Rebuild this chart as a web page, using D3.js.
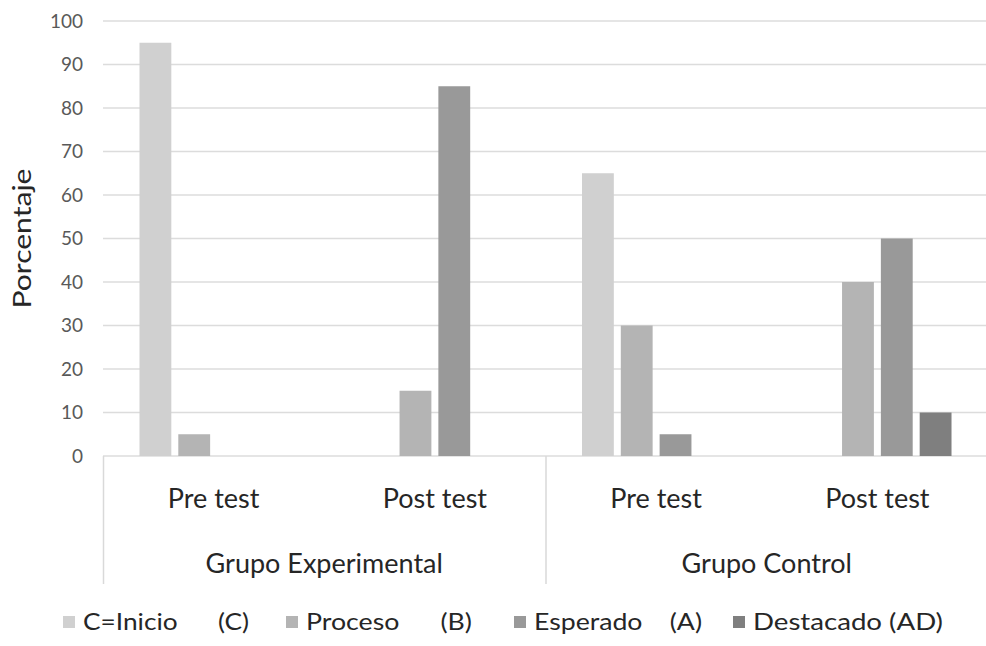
<!DOCTYPE html>
<html>
<head>
<meta charset="utf-8">
<script src="https://cdn.jsdelivr.net/npm/d3@7"></script>
<style>
  html, body { margin: 0; padding: 0; background: #fff; }
  svg { display: block; font-family: Lato, "Open Sans", sans-serif; }
  text { white-space: pre; }
</style>
</head>
<body>
<svg id="chart" width="986" height="646"></svg>
<script>
// Nivel de logro por grupo y momento de evaluación (%)
const categories = ["Pre test", "Post test", "Pre test", "Post test"];
const groups = ["Grupo Experimental", "Grupo Control"];
const seriesNames = ["C=Inicio      (C)", "Proceso      (B)", "Esperado    (A)", "Destacado (AD)"];
const inicio    = [95, 0, 65, 0];
const proceso   = [5, 15, 30, 40];
const esperado  = [0, 85, 5, 50];
const destacado = [0, 0, 0, 10];
const yTicks = [0, 10, 20, 30, 40, 50, 60, 70, 80, 90, 100];
const colors = ["#d0d0d0", "#b4b4b4", "#999999", "#7f7f7f"];

const seriesValues = [inicio, proceso, esperado, destacado];

const svg = d3.select("#chart");
const plot = { left: 103, right: 988, top: 21, bottom: 456 };

const x0 = d3.scaleBand()
  .domain(d3.range(categories.length))
  .range([plot.left, plot.right])
  .paddingInner(0).paddingOuter(0);

const x1 = d3.scaleBand()
  .domain(d3.range(seriesNames.length))
  .range([0, x0.bandwidth()])
  .paddingInner(0.18)
  .paddingOuter(0.94);

const y = d3.scaleLinear().domain([0, 100]).range([plot.bottom, plot.top]);

// Horizontal gridlines
svg.append("g")
  .selectAll("line")
  .data(yTicks)
  .join("line")
  .attr("x1", plot.left).attr("x2", plot.right)
  .attr("y1", d => y(d)).attr("y2", d => y(d))
  .attr("stroke", "#dcdcdc").attr("stroke-width", 1.6);

// Y axis tick labels
const yAxis = d3.axisLeft(y).tickValues(yTicks).tickSize(0).tickPadding(0);
const gy = svg.append("g")
  .attr("transform", `translate(${plot.left - 20},0)`)
  .call(yAxis);
gy.select(".domain").remove();
gy.selectAll("text")
  .attr("fill", "#595959")
  .style("font-size", "19px")
  .style("font-family", "Lato, sans-serif");

// Bars
const cat = svg.append("g")
  .selectAll("g")
  .data(d3.range(categories.length))
  .join("g")
  .attr("transform", i => `translate(${x0(i)},0)`);

cat.selectAll("rect")
  .data(i => seriesValues.map((vals, s) => ({ s, v: vals[i] })))
  .join("rect")
  .attr("x", d => x1(d.s))
  .attr("width", x1.bandwidth())
  .attr("y", d => y(d.v))
  .attr("height", d => y(0) - y(d.v))
  .attr("fill", d => colors[d.s]);

// Category labels
svg.append("g")
  .selectAll("text")
  .data(categories)
  .join("text")
  .attr("x", (d, i) => x0(i) + x0.bandwidth() / 2)
  .attr("y", 508)
  .attr("text-anchor", "middle")
  .attr("fill", "#262626")
  .style("font-size", "27px")
  .text(d => d);

// Group labels and separators
const groupWidth = x0.bandwidth() * 2;
svg.append("g")
  .selectAll("text")
  .data(groups)
  .join("text")
  .attr("x", (d, i) => plot.left + groupWidth * i + groupWidth / 2)
  .attr("y", 573)
  .attr("text-anchor", "middle")
  .attr("fill", "#262626")
  .style("font-size", "27px")
  .text(d => d);

svg.append("g")
  .selectAll("line")
  .data(d3.range(groups.length))
  .join("line")
  .attr("x1", i => plot.left + groupWidth * i + 0.5)
  .attr("x2", i => plot.left + groupWidth * i + 0.5)
  .attr("y1", plot.bottom).attr("y2", 584)
  .attr("stroke", "#d9d9d9").attr("stroke-width", 1.5);

// Y axis title
svg.append("text")
  .attr("transform", `translate(31,${(plot.top + plot.bottom) / 2}) rotate(-90)`)
  .attr("text-anchor", "middle")
  .attr("fill", "#262626")
  .attr("textLength", 140)
  .attr("lengthAdjust", "spacingAndGlyphs")
  .style("font-size", "25px")
  .text("Porcentaje");

// Legend
const legendWidths = [166, 166, 168, 190];
const legendStarts = [63, 286, 514, 733];
const legend = svg.append("g")
  .selectAll("g")
  .data(seriesNames)
  .join("g")
  .attr("transform", (d, i) => `translate(${legendStarts[i]},622)`);
legend.append("rect")
  .attr("x", 0).attr("y", -6)
  .attr("width", 12).attr("height", 12)
  .attr("fill", (d, i) => colors[i]);
legend.append("text")
  .attr("x", 20).attr("y", 8)
  .attr("fill", "#262626")
  .attr("textLength", (d, i) => legendWidths[i])
  .attr("lengthAdjust", "spacingAndGlyphs")
  .style("font-size", "23px")
  .text(d => d);
</script>
</body>
</html>
